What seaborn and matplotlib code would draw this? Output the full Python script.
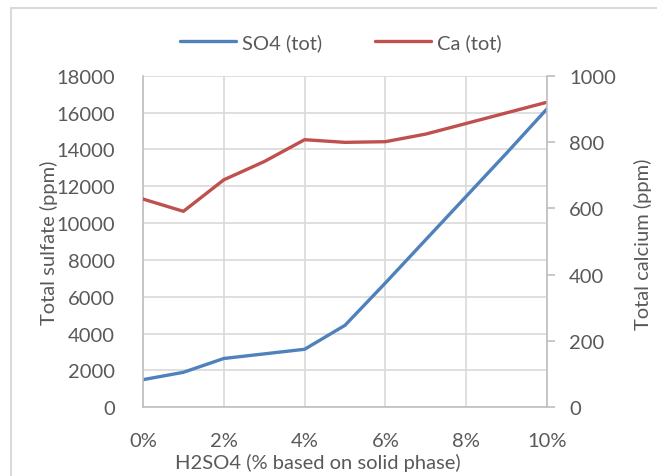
import matplotlib
matplotlib.use("Agg")
import matplotlib.pyplot as plt
from matplotlib.lines import Line2D
from matplotlib.ticker import FuncFormatter, MultipleLocator
import seaborn as sns
import pandas as pd

# ---- data ----
h2so4_pct = [0, 1, 2, 3, 4, 5, 6, 7, 8, 9, 10]
so4_tot = [1500, 1900, 2650, 2900, 3150, 4450, 6750, 9100, 11450, 13800, 16200]
ca_tot = [628, 591, 686, 741, 807, 799, 801, 824, 856, 888, 920]
series_names = ["SO4 (tot)", "Ca (tot)"]
x_label = "H2SO4 (% based on solid phase)"
y_left_label = "Total sulfate (ppm)"
y_right_label = "Total calcium (ppm)"

df = pd.DataFrame({"x": h2so4_pct, "so4": so4_tot, "ca": ca_tot})

sns.set_theme(style="white")
plt.rcParams["font.family"] = ["Lato", "DejaVu Sans"]

TXT = "#595959"
GRID = "#d9d9d9"
SPINE = "#bfbfbf"
BLUE = "#4f81bd"
RED = "#c0504d"
FS = 14.5

fig = plt.figure(figsize=(6.57, 4.77), dpi=100)
W, H = 657, 477
L, R, T, B = 143, 547, 76.7, 408.3
ax = fig.add_axes([L / W, 1 - B / H, (R - L) / W, (B - T) / H])
ax2 = ax.twinx()

sns.lineplot(data=df, x="x", y="so4", ax=ax, color=BLUE, linewidth=2.4,
             label=series_names[0], legend=False)
sns.lineplot(data=df, x="x", y="ca", ax=ax2, color=RED, linewidth=2.4,
             label=series_names[1], legend=False)

ax.set_xlim(0, 10)
ax.set_ylim(0, 18000)
ax2.set_ylim(0, 1000)
ax.xaxis.set_major_locator(MultipleLocator(2))
ax.yaxis.set_major_locator(MultipleLocator(2000))
ax2.yaxis.set_major_locator(MultipleLocator(200))
ax.xaxis.set_major_formatter(FuncFormatter(lambda v, p: f"{int(round(v))}%"))

ax.grid(True, color=GRID, linewidth=1.2)
ax.set_axisbelow(True)
ax2.grid(False)

for a in (ax, ax2):
    for s in a.spines.values():
        s.set_visible(False)
ax.spines["left"].set_visible(True)
ax.spines["left"].set_color(SPINE)
ax.spines["bottom"].set_visible(True)
ax.spines["bottom"].set_color(SPINE)
ax2.spines["right"].set_visible(True)
ax2.spines["right"].set_color(SPINE)
for s in ("left", "bottom", "right"):
    ax.spines[s].set_linewidth(1.2)
    ax2.spines[s].set_linewidth(1.2)

ax.tick_params(axis="y", length=0, labelsize=FS, labelcolor=TXT, pad=20)
ax.tick_params(axis="x", length=0, labelsize=FS, labelcolor=TXT, pad=18)
ax2.tick_params(axis="y", length=6, width=1.2, color=SPINE, direction="out",
                labelsize=FS, labelcolor=TXT, pad=10)

def px(x):
    return (x - L) / (R - L)

def py(y):
    return (B - y) / (B - T)

ax.set_xlabel(x_label, fontsize=FS, color=TXT)
ax.xaxis.label.set_verticalalignment("center")
ax.xaxis.set_label_coords(px(318), py(463))
ax.set_ylabel(y_left_label, fontsize=FS, color=TXT)
ax.yaxis.label.set_verticalalignment("center")
ax.yaxis.label.set_horizontalalignment("center")
ax.yaxis.set_label_coords(px(49), 0.5)
ax2.set_ylabel(y_right_label, fontsize=FS, color=TXT, rotation=90)
ax2.yaxis.label.set_verticalalignment("center")
ax2.yaxis.label.set_horizontalalignment("center")
ax2.yaxis.set_label_coords(px(643), py(244))

handles = [Line2D([], [], color=BLUE, linewidth=2.4), Line2D([], [], color=RED, linewidth=2.4)]
fig.legend(handles, series_names, loc="center", bbox_to_anchor=(341 / W, 1 - 43 / H),
           ncol=2, frameon=False, fontsize=FS, labelcolor=TXT, handlelength=2.8,
           handletextpad=0.3, columnspacing=2.6)

# chart border (partially visible)
fig.add_artist(Line2D([11 / W, 11 / W], [0, 1 - 9 / H], color=GRID, linewidth=1.5))
fig.add_artist(Line2D([11 / W, 1], [1 - 9 / H, 1 - 9 / H], color=GRID, linewidth=1.5))

fig.savefig("out.png", dpi=100)
